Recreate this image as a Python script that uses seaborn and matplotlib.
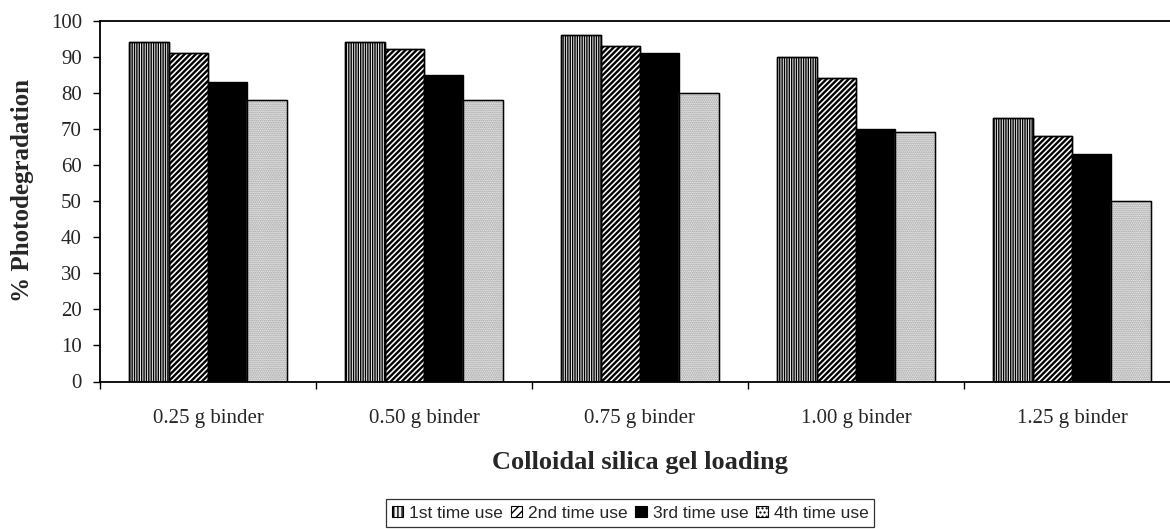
import matplotlib
matplotlib.use("Agg")
import matplotlib.pyplot as plt
import matplotlib.patches as mpatches
import seaborn as sns
import pandas as pd

categories = ["0.25 g binder", "0.50 g binder", "0.75 g binder", "1.00 g binder", "1.25 g binder"]
series_names = ["1st time use", "2nd time use", "3rd time use", "4th time use"]
use1 = [94, 94, 96, 90, 73]
use2 = [91, 92, 93, 84, 68]
use3 = [83, 85, 91, 70, 63]
use4 = [78, 78, 80, 69, 50]
y_ticks = [0, 10, 20, 30, 40, 50, 60, 70, 80, 90, 100]

rows = []
for name, vals in zip(series_names, [use1, use2, use3, use4]):
    for c, v in zip(categories, vals):
        rows.append({"loading": c, "use": name, "value": v})
df = pd.DataFrame(rows)

sns.set_style("white")
plt.rcParams["font.family"] = ["Liberation Serif", "DejaVu Serif"]
plt.rcParams["hatch.linewidth"] = 1.0

fig = plt.figure(figsize=(11.7, 5.29), dpi=100)
W, H = 1170, 529
left, right, top, bottom = 100, 1180, 20.5, 381.5
ax = fig.add_axes([left / W, 1 - bottom / H, (right - left) / W, (bottom - top) / H])

sns.barplot(data=df, x="loading", y="value", hue="use", order=categories,
            hue_order=series_names, width=0.73, gap=0, dodge=True,
            edgecolor="black", linewidth=1.0, ax=ax, legend=False, errorbar=None)

styles = [
    dict(face="#f0f0f0", hatch="|||||||", hcol="black", hlw=1.0),
    dict(face="white", hatch="//////", hcol="black", hlw=1.7),
    dict(face="black", hatch=None, hcol="black", hlw=1.0),
    dict(face="white", hatch="........", hcol="#8a8a8a", hlw=1.0),
]

for cont, st in zip(ax.containers, styles):
    for p in cont.patches:
        p.set_facecolor(st["face"])
        if st["hatch"]:
            p.set_hatch(st["hatch"])
            p.set_edgecolor(st["hcol"])
            if hasattr(p, "set_hatch_linewidth"):
                p.set_hatch_linewidth(st["hlw"])
            # black outline derived from the library's bar
            outline = mpatches.Rectangle(p.get_xy(), p.get_width(), p.get_height(),
                                         fill=False, edgecolor="black", linewidth=1.0,
                                         zorder=p.get_zorder() + 0.1)
            ax.add_patch(outline)
        else:
            p.set_edgecolor("black")

ax.set_xlim(-0.5, len(categories) - 0.5)
ax.set_ylim(0, 100)
ax.set_yticks(y_ticks)
ax.set_yticklabels([str(t) for t in y_ticks], fontsize=15)
ax.tick_params(axis="y", direction="out", length=5, width=1, pad=8, left=True, color="black")

ax.set_xticks([i - 0.5 for i in range(len(categories) + 1)])
ax.set_xticklabels([""] * (len(categories) + 1))
ax.set_xticks(range(len(categories)), minor=True)
ax.set_xticklabels(categories, minor=True, fontsize=15)
ax.tick_params(axis="x", which="major", direction="out", length=5, width=1, bottom=True, color="black")
ax.tick_params(axis="x", which="minor", length=0, pad=20)

ax.set_xlabel("")
ax.set_ylabel("")
for s in ax.spines.values():
    s.set_color("black")
    s.set_linewidth(1.3)
ax.grid(False)

fig.text(23 / W, 1 - 190 / H, "% Photodegradation", rotation=90, ha="center", va="center",
         fontsize=18, fontweight="bold")
fig.text(640 / W, 1 - 462 / H, "Colloidal silica gel loading", ha="center", va="center",
         fontsize=19, fontweight="bold")

handles = []
for name, st in zip(series_names, styles):
    h = mpatches.Patch(facecolor=st["face"], edgecolor="black",
                       hatch=(st["hatch"][:4] if st["hatch"] else None), linewidth=0.8,
                       label=name)
    handles.append(h)
leg = fig.legend(handles=handles, loc="center", bbox_to_anchor=(630 / W, 1 - 513 / H), ncol=4,
                 frameon=True, fancybox=False, edgecolor="black",
                 prop={"family": ["Liberation Sans", "DejaVu Sans"], "size": 12.5},
                 handlelength=0.65, handleheight=0.65, handletextpad=0.35, columnspacing=0.45,
                 borderpad=0.35, borderaxespad=0)
leg.get_frame().set_linewidth(0.9)

fig.savefig("out.png", dpi=100)
